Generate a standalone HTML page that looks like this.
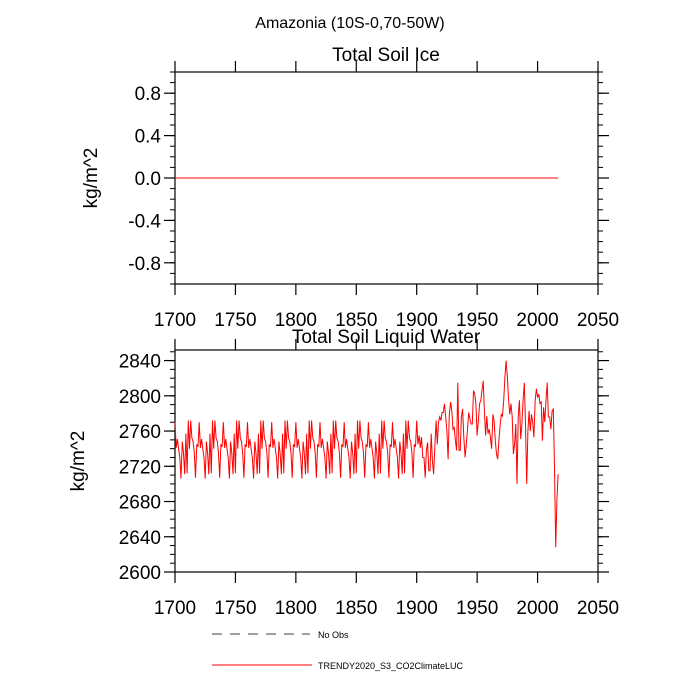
<!DOCTYPE html>
<html><head><meta charset="utf-8"><style>
body{margin:0;background:#fff;}
svg{display:block;font-family:"Liberation Sans",sans-serif;}
</style></head><body>
<svg id="c" width="700" height="700" xmlns="http://www.w3.org/2000/svg">
<text x="350" y="28" font-size="16" text-anchor="middle">Amazonia (10S-0,70-50W)</text>
<text x="386" y="61" font-size="19" text-anchor="middle">Total Soil Ice</text>
<text x="386" y="343" font-size="19" text-anchor="middle">Total Soil Liquid Water</text>
<text transform="translate(97,178) rotate(-90)" font-size="19" text-anchor="middle">kg/m^2</text>
<text transform="translate(84,461) rotate(-90)" font-size="19" text-anchor="middle">kg/m^2</text>
<line x1="212" y1="634" x2="310" y2="634" stroke="#000" stroke-width="0.8" stroke-dasharray="10,8"/>
<text x="318" y="638" font-size="9">No Obs</text>
<line x1="212" y1="665" x2="312" y2="665" stroke="#f00" stroke-width="1"/>
<text x="318" y="669" font-size="9">TRENDY2020_S3_CO2ClimateLUC</text>
<g id="g"></g>
</svg>
<script>
const years = [];
const cycle = [2770,2741,2751,2740,2730,2706,2748,2735,2711,2757,2712,2772,2740,2772,2752,2748,2735,2707,2745,2742];
const iceValues = [];
const liquidEarly = [].concat(cycle,cycle,cycle,cycle,cycle,cycle,cycle,cycle,cycle,cycle);
const liquidLate = [2772,2745,2755,2741,2753,2730,2730,2707,2738,2747,2715,2715,2757,2726,2711,2741,2772,2745,2770,2776,
2772,2781,2781,2791,2776,2760,2728,2779,2793,2783,2762,2764,2749,2738,2815,2738,2738,2776,2785,2753,
2730,2745,2762,2781,2774,2768,2768,2806,2802,2791,2755,2772,2791,2795,2806,2817,2783,2755,2777,2757,
2762,2753,2740,2779,2772,2749,2734,2728,2749,2766,2779,2777,2795,2821,2840,2821,2795,2779,2791,2776,
2734,2745,2768,2700,2776,2795,2751,2768,2795,2815,2768,2700,2760,2783,2760,2779,2770,2753,2795,2808,
2798,2802,2791,2793,2749,2787,2770,2795,2815,2776,2776,2762,2783,2785,2719,2628,2681,2711];
const liquidValues = liquidEarly.concat(liquidLate);
for (let i=0;i<liquidValues.length;i++){years.push(1700+i);iceValues.push(0);}
const xTicks = [1700,1750,1800,1850,1900,1950,2000,2050];
const iceTicks = [-0.8,-0.4,0.0,0.4,0.8];
const iceTickLabels = ["-0.8","-0.4","0.0","0.4","0.8"];
const liqTicks = [2600,2640,2680,2720,2760,2800,2840];

const NS="http://www.w3.org/2000/svg";
const g=document.getElementById('g');
function el(t,a){const e=document.createElementNS(NS,t);for(const k in a)e.setAttribute(k,a[k]);g.appendChild(e);return e;}
const L=175,R=598;
const sx=v=>L+(v-1700)/350*(R-L);

function panel(name,top,bot,ymin,ymax,ticks,labels,minorStep,vals){
  const sy=v=>bot-(v-ymin)/(ymax-ymin)*(bot-top);
  let r=el('rect',{x:L,y:top,width:R-L,height:bot-top,fill:'none',stroke:'#000','stroke-width':1.2});
  
  
  // minor y ticks
  for(let v=ymin;v<=ymax+1e-9;v+=minorStep){
    const y=sy(v);
    let a=el('line',{x1:L-5,y1:y,x2:L,y2:y,stroke:'#000','stroke-width':1});
    
    
    let b=el('line',{x1:R,y1:y,x2:R+5,y2:y,stroke:'#000','stroke-width':1});
    
    
  }
  ticks.forEach((v,i)=>{
    const y=sy(v);
    let a=el('line',{x1:L-11,y1:y,x2:L,y2:y,stroke:'#000','stroke-width':1.2});
    
    
    let b=el('line',{x1:R,y1:y,x2:R+11,y2:y,stroke:'#000','stroke-width':1.2});
    
    
    let t=el('text',{x:L-14,y:y+7,'font-size':19,'text-anchor':'end'});
    t.textContent=labels[i];
    
    
  });
  xTicks.forEach(v=>{
    const x=sx(v);
    let a=el('line',{x1:x,y1:top-11,x2:x,y2:top,stroke:'#000','stroke-width':1.2});
    
    
    let b=el('line',{x1:x,y1:bot,x2:x,y2:bot+11,stroke:'#000','stroke-width':1.2});
    
    
    let t=el('text',{x:x,y:bot+42,'font-size':19,'text-anchor':'middle'});
    t.textContent=String(v);
    
    
  });
  const pts=vals.map((v,i)=>sx(years[i]).toFixed(1)+','+sy(v).toFixed(1)).join(' ');
  let p=el('polyline',{points:pts,fill:'none',stroke:'#f00','stroke-width':1});
  
  
}
panel('ice',72,284,-1,1,iceTicks,iceTickLabels,0.1,iceValues);
panel('liquid',350,572,2600,2852,liqTicks,liqTicks.map(String),10,liquidValues);
</script>
</body></html>
